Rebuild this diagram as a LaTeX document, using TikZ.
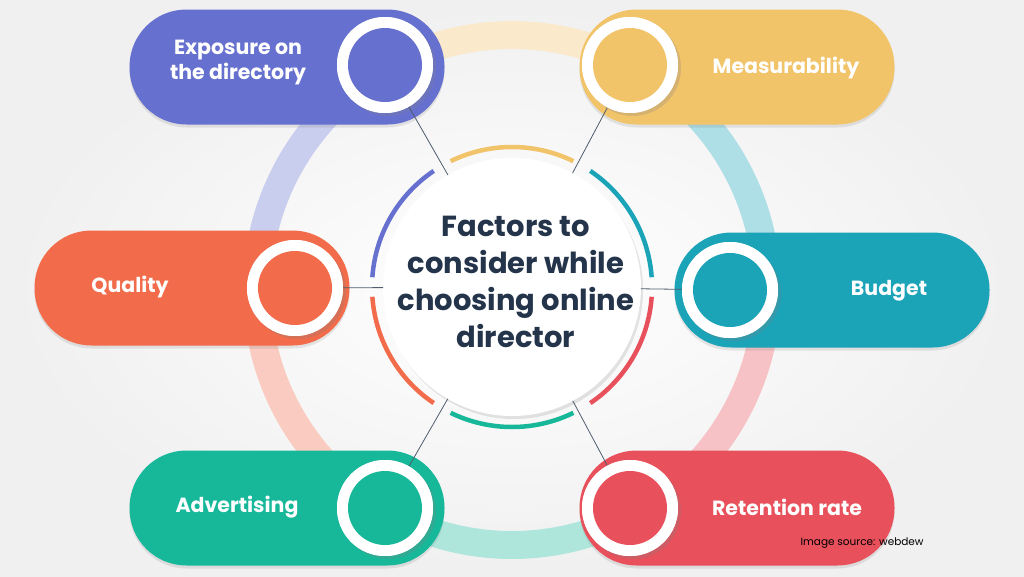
\documentclass[tikz,border=0pt]{standalone}
\usepackage{fontspec}
\setmainfont{Poppins}
\usetikzlibrary{shadows,calc}
\definecolor{cpur}{HTML}{6670CF}
\definecolor{cyel}{HTML}{F2C46A}
\definecolor{cora}{HTML}{F26B4A}
\definecolor{ctea}{HTML}{1BA3B8}
\definecolor{cgrn}{HTML}{17B89A}
\definecolor{cred}{HTML}{E8505B}
\definecolor{cnav}{HTML}{24344A}
\tikzset{
  pill/.style={rounded corners=57pt, minimum width=315pt, minimum height=115pt, inner sep=0pt,
    drop shadow={shadow xshift=0pt,shadow yshift=-3pt,opacity=.18}},
  knob/.style={circle, fill=white, minimum size=96pt, inner sep=0pt,
    drop shadow={shadow xshift=3pt,shadow yshift=-3pt,opacity=.25}},
  dot/.style={circle, minimum size=74pt, inner sep=0pt},
  lbl/.style={text=white, font=\bfseries\fontsize{20.5}{25}\selectfont, align=center},
  link/.style={draw=cnav!80, line width=0.8pt},
}
\begin{document}
\begin{tikzpicture}[x=1pt,y=-1pt]
\useasboundingbox (0,0) rectangle (1024,576);
\fill[inner color=white, outer color=black!6] (0,0) rectangle (1024,576);
% big ring
\foreach \a/\b/\c in {185/235/cpur,245/295/cyel,305/355/ctea,5/55/cred,65/115/cgrn,125/175/cora}
  \draw[\c!35, line width=28pt] (512,290) ++(\a:255) arc[start angle=\a, end angle=\b, radius=255];
\coordinate (cc) at (512,287);
% pills
\node[pill, fill=cpur] (p1) at (287,67) {};
\node[pill, fill=cyel] (p2) at (737,67) {};
\node[pill, fill=cora] (p3) at (192,288) {};
\node[pill, fill=ctea] (p4) at (832,290) {};
\node[pill, fill=cgrn] (p5) at (287,508) {};
\node[pill, fill=cred] (p6) at (737,508) {};
\node[lbl] at (238,63) {Exposure on\\the directory};
\node[lbl] at (786,68) {Measurability};
\node[lbl] at (130,287) {Quality};
\node[lbl] at (889,291) {Budget};
\node[lbl] at (237,507) {Advertising};
\node[lbl] at (787,507) {Retention rate};
% center
\node[circle, fill=white, minimum size=258pt, inner sep=0pt,
  drop shadow={shadow xshift=2pt,shadow yshift=-3pt,opacity=.2}] (c) at (cc) {};
\foreach \a/\b/\c in {244/296/cyel,304/356/ctea,4/56/cred,64/116/cgrn,124/176/cora,184/236/cpur}
  \draw[\c, line width=4.5pt] (cc) ++(\a:140) arc[start angle=\a, end angle=\b, radius=140];
% knobs and connectors
\node[knob] (k1) at (385,65) {};
\node[knob] (k2) at (630,65) {};
\node[knob] (k3) at (295,288) {};
\node[knob] (k4) at (730,290) {};
\node[knob] (k5) at (385,508) {};
\node[knob] (k6) at (630,508) {};
\draw[link] ($(cc)!129pt!(k1)$) -- (k1);
\draw[link] ($(cc)!129pt!(k2)$) -- (k2);
\draw[link] ($(cc)!129pt!(k3)$) -- (k3);
\draw[link] ($(cc)!129pt!(k4)$) -- (k4);
\draw[link] ($(cc)!129pt!(k5)$) -- (k5);
\draw[link] ($(cc)!129pt!(k6)$) -- (k6);
\foreach \k in {1,...,6} \node[circle, fill=white, minimum size=96pt, inner sep=0pt] at (k\k) {};
\node[dot, fill=cpur] at (k1) {}; \node[dot, fill=cyel] at (k2) {};
\node[dot, fill=cora] at (k3) {}; \node[dot, fill=ctea] at (k4) {};
\node[dot, fill=cgrn] at (k5) {}; \node[dot, fill=cred] at (k6) {};
\node[text=cnav, font=\fontsize{29}{37}\selectfont\bfseries, align=center] at (516,282) {Factors to\\consider while\\choosing online\\director};
\node[font=\fontsize{10.5}{12}\selectfont, anchor=west] at (797,543) {Image source: webdew};
\end{tikzpicture}
\end{document}
